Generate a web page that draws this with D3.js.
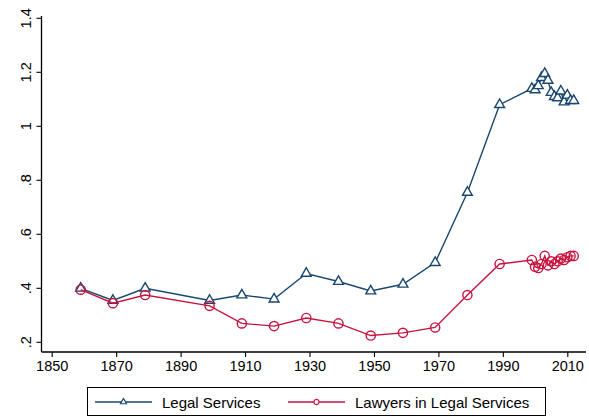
<!DOCTYPE html>
<html>
<head>
<meta charset="utf-8">
<script src="https://cdn.jsdelivr.net/npm/d3@7"></script>
<style>
  body { margin: 0; background: #fff; }
  svg { display: block; font-family: "Liberation Sans", Arial, sans-serif; }
</style>
</head>
<body>
<div id="chart"></div>
<script>
// Data
const years = [1859, 1869, 1879, 1899, 1909, 1919, 1929, 1939, 1949, 1959, 1969, 1979, 1989,
  1999, 2000, 2001, 2002, 2003, 2004, 2005, 2006, 2007, 2008, 2009, 2010, 2011, 2012];
const legalServices = [0.40, 0.355, 0.40, 0.355, 0.375, 0.36, 0.455, 0.425, 0.39, 0.415, 0.495, 0.755, 1.08,
  1.14, 1.135, 1.15, 1.18, 1.195, 1.17, 1.125, 1.11, 1.105, 1.13, 1.09, 1.115, 1.095, 1.095];
const lawyers = [0.395, 0.345, 0.375, 0.335, 0.27, 0.26, 0.29, 0.27, 0.225, 0.235, 0.255, 0.375, 0.49,
  0.505, 0.48, 0.475, 0.49, 0.52, 0.485, 0.50, 0.49, 0.50, 0.51, 0.505, 0.515, 0.52, 0.52];
const xTicks = [1850, 1870, 1890, 1910, 1930, 1950, 1970, 1990, 2010];
const yTicks = [0.2, 0.4, 0.6, 0.8, 1.0, 1.2, 1.4];
const yTickLabels = [".2", ".4", ".6", ".8", "1", "1.2", "1.4"];
const seriesNames = ["Legal Services", "Lawyers in Legal Services"];

const W = 589, H = 417;
const navy = "#1a476f", red = "#c8133f";
const fontFam = "Liberation Sans, Arial, sans-serif";

const svg = d3.select("#chart").append("svg").attr("width", W).attr("height", H);

const x = d3.scaleLinear().domain([1850, 2010]).range([51.7, 567.3]);
const y = d3.scaleLinear().domain([0.2, 1.4]).range([342.3, 18.3]);

const axisLeftX = 41.5, axisBottomY = 352;

// Axis lines
svg.append("line").attr("x1", axisLeftX).attr("x2", axisLeftX).attr("y1", 16).attr("y2", axisBottomY)
  .attr("stroke", "#000").attr("stroke-width", 1.3);
svg.append("line").attr("x1", axisLeftX).attr("x2", 586).attr("y1", axisBottomY).attr("y2", axisBottomY)
  .attr("stroke", "#000").attr("stroke-width", 1.3);

// Y axis
const yAxis = svg.append("g").attr("transform", `translate(${axisLeftX},0)`)
  .call(d3.axisLeft(y).tickValues(yTicks).tickSize(5).tickFormat((d, i) => yTickLabels[i]));
yAxis.select(".domain").remove();
yAxis.attr("font-size", 14.5).attr("font-family", fontFam);
yAxis.selectAll("line").attr("stroke-width", 1.1);
yAxis.selectAll(".tick").attr("transform", null);
yAxis.selectAll(".tick line").attr("transform", (d) => `translate(0,${y(d)})`);
yAxis.selectAll(".tick text")
  .attr("fill", "#000")
  .attr("x", 0).attr("y", 0).attr("dx", 0).attr("dy", 0)
  .attr("text-anchor", "middle")
  .attr("transform", (d) => `translate(-11,${y(d)}) rotate(-90)`);

// X axis
const xAxis = svg.append("g").attr("transform", `translate(0,${axisBottomY})`)
  .call(d3.axisBottom(x).tickValues(xTicks).tickSize(5).tickFormat(d3.format("d")));
xAxis.select(".domain").remove();
xAxis.attr("font-size", 14.5).attr("font-family", fontFam);
xAxis.selectAll("line").attr("stroke-width", 1.1);
xAxis.selectAll("text").attr("fill", "#000").attr("y", 9);

// Series
const series = [
  { name: seriesNames[0], values: legalServices, color: navy, marker: "tri" },
  { name: seriesNames[1], values: lawyers, color: red, marker: "circ" },
];

const line = d3.line().x((d) => x(d[0])).y((d) => y(d[1]));
const triPath = d3.symbol().type(d3.symbolTriangle).size(42)();

function drawMarker(sel, type, color) {
  if (type === "tri") {
    sel.append("path").attr("d", triPath).attr("fill", "#fff")
      .attr("stroke", color).attr("stroke-width", 1.4);
  } else {
    sel.append("circle").attr("r", 4.6).attr("fill", "none")
      .attr("stroke", color).attr("stroke-width", 1.4);
  }
}

series.forEach((s) => {
  const pts = years.map((yr, i) => [yr, s.values[i]]);
  svg.append("path").attr("d", line(pts)).attr("fill", "none")
    .attr("stroke", s.color).attr("stroke-width", 1.4);
  svg.selectAll(null).data(pts).enter().append("g")
    .attr("transform", (d) => `translate(${x(d[0])},${y(d[1])})`)
    .each(function () { drawMarker(d3.select(this), s.marker, s.color); });
});

// Legend
const legend = svg.append("g");
legend.append("rect").attr("x", 87.5).attr("y", 387.5).attr("width", 458).attr("height", 28)
  .attr("fill", "#fff").attr("stroke", "#000").attr("stroke-width", 1);
const legendX = [95, 288];
series.forEach((s, i) => {
  const g = legend.append("g").attr("transform", `translate(${legendX[i]},402)`);
  g.append("line").attr("x1", 0).attr("x2", 57).attr("stroke", s.color).attr("stroke-width", 1.4);
  const m = g.append("g").attr("transform", "translate(28.5,0)");
  if (s.marker === "tri") {
    m.append("path").attr("d", d3.symbol().type(d3.symbolTriangle).size(16)())
      .attr("fill", "#fff").attr("stroke", s.color).attr("stroke-width", 1.2);
  } else {
    m.append("circle").attr("r", 2.6).attr("fill", "#fff").attr("stroke", s.color).attr("stroke-width", 1.2);
  }
  g.append("text").attr("x", 67).attr("y", 5.5).attr("font-size", 15)
    .attr("font-family", fontFam).attr("fill", "#000").text(s.name);
});
</script>
</body>
</html>
